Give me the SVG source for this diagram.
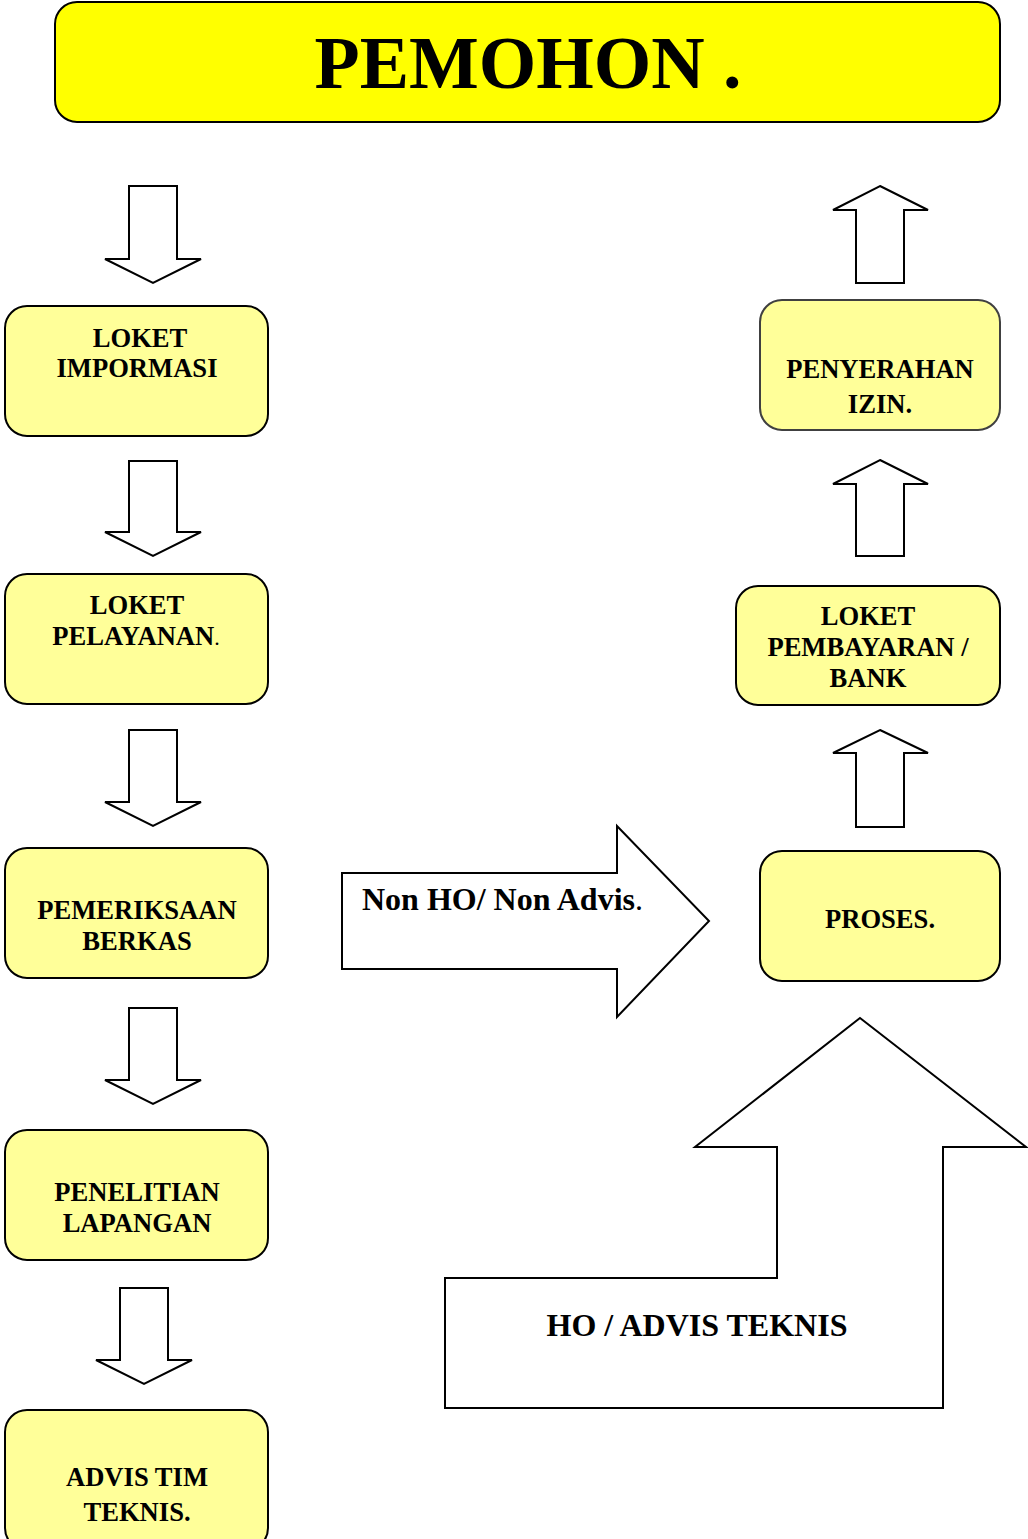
<svg xmlns="http://www.w3.org/2000/svg" width="1028" height="1539" viewBox="0 0 1028 1539">
<style>
.box{fill:#ffff99;stroke:#000;stroke-width:2}
.arr{fill:#fff;stroke:#000;stroke-width:2;stroke-linejoin:miter}
.t{font-family:"Liberation Serif","Times New Roman",serif;font-weight:bold;font-size:26.6px;text-anchor:middle;fill:#000}
.big{font-family:"Liberation Serif","Times New Roman",serif;font-weight:bold;font-size:32px;fill:#000}
</style>
<rect width="1028" height="1539" fill="#fff"/>
<g id="pemohon">
<rect x="55" y="2" width="945" height="120" rx="22" fill="#ffff00" stroke="#000" stroke-width="2"/>
<text x="528" y="88" style="font-family:'Liberation Serif','Times New Roman',serif;font-weight:bold;font-size:74px;text-anchor:middle" textLength="427" lengthAdjust="spacingAndGlyphs">PEMOHON .</text>
</g>
<g id="connectors">
<polygon class="arr" points="129,186 177,186 177,259 201,259 153,283 105,259 129,259"/>
<polygon class="arr" points="129,461 177,461 177,532 201,532 153,556 105,532 129,532"/>
<polygon class="arr" points="129,730 177,730 177,802 201,802 153,826 105,802 129,802"/>
<polygon class="arr" points="129,1008 177,1008 177,1080 201,1080 153,1104 105,1080 129,1080"/>
<polygon class="arr" points="120,1288 168,1288 168,1360 192,1360 144,1384 96,1360 120,1360"/>
<polygon class="arr" points="880,186 928,210 904,210 904,283 856,283 856,210 833,210"/>
<polygon class="arr" points="880,460 928,484 904,484 904,556 856,556 856,484 833,484"/>
<polygon class="arr" points="880,730 928,753 904,753 904,827 856,827 856,753 833,753"/>
<g id="non-ho">
<polygon class="arr" points="342,873 617,873 617,826 709,921 617,1017 617,969 342,969"/>
<text class="big" x="362" y="910">Non HO/ Non Advis<tspan style="font-weight:normal">.</tspan></text>
</g>
<g id="ho-advis">
<polygon class="arr" points="860,1018 1026,1147 943,1147 943,1408 445,1408 445,1278 777,1278 777,1147 695,1147"/>
<text class="big" x="697" y="1336" text-anchor="middle">HO / ADVIS TEKNIS</text>
</g>
</g>
<g id="loket-impormasi">
<rect class="box" x="5" y="306" width="263" height="130" rx="22"/>
<text class="t" x="140" y="347">LOKET</text>
<text class="t" x="137" y="377">IMPORMASI</text>
</g>
<g id="loket-pelayanan">
<rect class="box" x="5" y="574" width="263" height="130" rx="22"/>
<text class="t" x="137" y="614">LOKET</text>
<text class="t" x="136" y="645">PELAYANAN<tspan style="font-weight:normal;font-size:22px">.</tspan></text>
</g>
<g id="pemeriksaan-berkas">
<rect class="box" x="5" y="848" width="263" height="130" rx="22"/>
<text class="t" x="137" y="919">PEMERIKSAAN</text>
<text class="t" x="137" y="950">BERKAS</text>
</g>
<g id="penelitian-lapangan">
<rect class="box" x="5" y="1130" width="263" height="130" rx="22"/>
<text class="t" x="137" y="1201">PENELITIAN</text>
<text class="t" x="137" y="1232">LAPANGAN</text>
</g>
<g id="advis-tim-teknis">
<rect class="box" x="5" y="1410" width="263" height="140" rx="22"/>
<text class="t" x="137" y="1486">ADVIS TIM</text>
<text class="t" x="137" y="1521">TEKNIS.</text>
</g>
<g id="penyerahan-izin">
<rect class="box" x="760" y="300" width="240" height="130" rx="22" style="stroke:#404040"/>
<text class="t" x="880" y="378">PENYERAHAN</text>
<text class="t" x="880" y="413">IZIN.</text>
</g>
<g id="loket-pembayaran">
<rect class="box" x="736" y="586" width="264" height="119" rx="22"/>
<text class="t" x="868" y="625">LOKET</text>
<text class="t" x="868" y="656">PEMBAYARAN /</text>
<text class="t" x="868" y="687">BANK</text>
</g>
<g id="proses">
<rect class="box" x="760" y="851" width="240" height="130" rx="22"/>
<text class="t" x="880" y="928">PROSES.</text>
</g>
</svg>
